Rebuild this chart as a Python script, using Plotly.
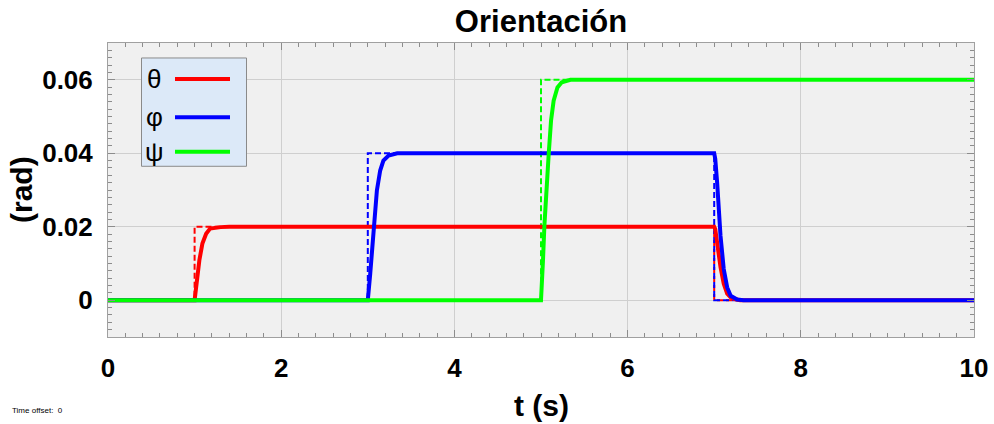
import plotly.graph_objects as go

# ---------------- data ----------------
names = ["θ", "φ", "ψ"]
colors = ["#ff0000", "#0000ff", "#00ff00"]

# reference (dashed) step commands
theta_ref_t = [0, 1, 1, 7, 7, 10]
theta_ref_v = [0, 0, 0.02, 0.02, 0, 0]
phi_ref_t = [0, 3, 3, 7, 7, 10]
phi_ref_v = [0, 0, 0.04, 0.04, 0, 0]
psi_ref_t = [0, 5, 5, 10]
psi_ref_v = [0, 0, 0.06, 0.06]

theta_t = [0, 1.0, 1.032, 1.055, 1.09, 1.133, 1.179, 1.24, 1.30, 1.40,
           7.0, 7.012, 7.034, 7.073, 7.11, 7.15, 7.19, 7.227, 7.30, 10]
theta_v = [0, 0, 0.0063, 0.0109, 0.0154, 0.0181, 0.0195, 0.0198, 0.0199, 0.02,
           0.02, 0.0194, 0.0154, 0.009, 0.0045, 0.0018, 0.0008, 0.0004, 0, 0]

phi_t = [0, 3.0, 3.028, 3.066, 3.105, 3.143, 3.18, 3.24, 3.34,
         7.0, 7.012, 7.034, 7.053, 7.073, 7.11, 7.15, 7.19, 7.265, 7.34, 10]
phi_v = [0, 0, 0.0072, 0.02, 0.0299, 0.0353, 0.038, 0.0394, 0.04,
         0.04, 0.0385, 0.032, 0.025, 0.0175, 0.0085, 0.0035, 0.0012, 0.0002, 0, 0]

psi_t = [0, 5.0, 5.023, 5.039, 5.089, 5.116, 5.146, 5.19, 5.24, 5.34, 10]
psi_v = [0, 0, 0.0109, 0.0202, 0.0398, 0.0489, 0.0543, 0.0579, 0.0593, 0.06, 0.06]

x_range = [0, 10]
y_range = [-0.01, 0.07]

# ---------------- figure ----------------
W, H = 994, 424
PL, PR, PT, PB = 108, 974, 42.5, 337


def pxx(x):
    return (x - PL) / (PR - PL)


def pyy(y):
    return (PB - y) / (PB - PT)


fig = go.Figure()

refs = [(theta_ref_t, theta_ref_v), (phi_ref_t, phi_ref_v), (psi_ref_t, psi_ref_v)]
for (t, v), c in zip(refs, colors):
    fig.add_trace(go.Scatter(x=t, y=v, mode="lines", showlegend=False,
                             line=dict(color=c, width=2, dash="6px,3px"),
                             hoverinfo="skip"))

outs = [(theta_t, theta_v), (phi_t, phi_v), (psi_t, psi_v)]
for (t, v), c, n in zip(outs, colors, names):
    fig.add_trace(go.Scatter(x=t, y=v, mode="lines", name=n, showlegend=False,
                             line=dict(color=c, width=4)))

font = "Liberation Sans, Arial, sans-serif"
axis_common = dict(
    showline=True, linecolor="#a0a0a0", linewidth=1, mirror="allticks",
    ticks="inside", ticklen=7, tickcolor="#8c8c8c", tickwidth=1,
    showgrid=True, gridcolor="#cfcfcf", gridwidth=1, zeroline=False,
    automargin=False,
    tickfont=dict(family=font, size=26, color="black", weight="bold"),
)

fig.update_xaxes(range=x_range, dtick=2, tick0=0,
                 minor=dict(ticks="inside", dtick=0.2, ticklen=4, tickcolor="#8c8c8c", showgrid=False),
                 ticklabelstandoff=8, **axis_common)
fig.update_yaxes(range=y_range, dtick=0.02, tick0=0,
                 minor=dict(ticks="inside", dtick=0.002, ticklen=4, tickcolor="#8c8c8c", showgrid=False),
                 ticklabelstandoff=9, **axis_common)

# legend (drawn manually: label on the left, line sample on the right)
shapes = [dict(type="rect", xref="paper", yref="paper",
               x0=pxx(141.5), x1=pxx(246.5), y0=pyy(166), y1=pyy(57.5),
               fillcolor="#dce9f8", line=dict(color="#8a8a8a", width=1), layer="above")]
annots = []
for n, c, yy in zip(names, colors, [78.5, 117, 151.5]):
    shapes.append(dict(type="line", xref="paper", yref="paper",
                       x0=pxx(175), x1=pxx(230), y0=pyy(yy), y1=pyy(yy),
                       line=dict(color=c, width=4), layer="above"))
    annots.append(dict(text=n, xref="paper", yref="paper", x=pxx(154), y=pyy(yy),
                       xanchor="center", yanchor="middle", showarrow=False,
                       font=dict(family=font, size=26, color="black")))

annots.append(dict(text="t (s)", xref="paper", yref="paper", x=0.5, y=pyy(406),
                   xanchor="center", yanchor="middle", showarrow=False,
                   font=dict(family=font, size=30, color="black", weight="bold")))
annots.append(dict(text="(rad)", xref="paper", yref="paper", x=pxx(21), y=0.5,
                   xanchor="center", yanchor="middle", showarrow=False, textangle=-90,
                   font=dict(family=font, size=30, color="black", weight="bold")))
annots.append(dict(text="Time offset:  0", xref="paper", yref="paper", x=pxx(10), y=pyy(411),
                   xanchor="left", yanchor="middle", showarrow=False,
                   font=dict(family=font, size=8, color="black")))

fig.update_layout(
    width=W, height=H,
    margin=dict(l=PL, r=W - PR, t=PT, b=H - PB, pad=0, autoexpand=False),
    paper_bgcolor="white", plot_bgcolor="#f0f0f0",
    title=dict(text="<b>Orientación</b>", x=0.5, xref="paper", y=1 - 21 / H,
               yref="container", xanchor="center", yanchor="middle",
               font=dict(family=font, size=31, color="black")),
    shapes=shapes, annotations=annots, showlegend=False,
)

fig.write_html("out.html")
